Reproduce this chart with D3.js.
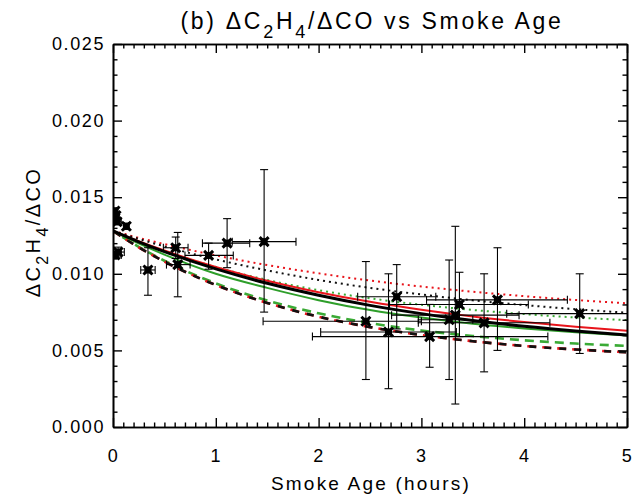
<!DOCTYPE html>
<html>
<head>
<meta charset="utf-8">
<script src="https://cdn.jsdelivr.net/npm/d3@7"></script>
<style>
  html, body { margin: 0; padding: 0; background: #fff; }
  svg { display: block; }
  text { font-family: "Liberation Sans", Arial, Helvetica, sans-serif; fill: #000; }
</style>
</head>
<body>
<svg id="chart" width="639" height="494"></svg>
<script>
// Smoke age sample points for the model curves (hours)
const curveAge = [0, 0.25, 0.5, 1, 1.5, 2, 2.5, 3, 3.5, 4, 4.5, 5];

// Model curves of dC2H4/dCO versus smoke age
const redDotted   = [0.0128, 0.01235, 0.01194, 0.0112, 0.01057, 0.01003, 0.00956, 0.00917, 0.00883, 0.00854, 0.00829, 0.00807];
const blackDotted = [0.0128, 0.01228, 0.01179, 0.01094, 0.01022, 0.0096, 0.00908, 0.00865, 0.00827, 0.00796, 0.00769, 0.00746];
const greenDotted = [0.0128, 0.01211, 0.01149, 0.01044, 0.0096, 0.00893, 0.0084, 0.00798, 0.00764, 0.00737, 0.00715, 0.00698];
const redSolid    = [0.0128, 0.01213, 0.01152, 0.01044, 0.00955, 0.0088, 0.00817, 0.00765, 0.00721, 0.00685, 0.00654, 0.00629];
const blackSolid  = [0.0128, 0.01209, 0.01145, 0.01032, 0.00938, 0.0086, 0.00794, 0.0074, 0.00695, 0.00657, 0.00626, 0.0060];
const greenSolid  = [0.0128, 0.01198, 0.01125, 0.01, 0.00908, 0.00828, 0.00763, 0.00714, 0.00674, 0.00643, 0.00618, 0.00598];
const greenDashed = [0.0128, 0.01176, 0.01085, 0.00938, 0.00826, 0.00742, 0.00678, 0.0063, 0.00594, 0.00566, 0.00545, 0.00529];
const redDashed   = [0.0128, 0.01173, 0.0108, 0.00927, 0.0081, 0.0072, 0.00652, 0.006, 0.0056, 0.00529, 0.00506, 0.00488];
const blackDashed = [0.0128, 0.01173, 0.0108, 0.00927, 0.0081, 0.0072, 0.00652, 0.006, 0.0056, 0.00529, 0.00506, 0.00488];

// Observations: age, ratio, and their error ranges
const obsAge    = [0.02, 0.03, 0.04, 0.02, 0.05, 0.13, 0.34, 0.61, 0.63, 0.93, 1.11, 1.47, 2.46, 2.68, 2.76, 3.08, 3.27, 3.33, 3.37, 3.61, 3.74, 4.54];
const obsRatio  = [0.0141, 0.0138, 0.0134, 0.01123, 0.01142, 0.0131, 0.01025, 0.0117, 0.0106, 0.0112, 0.0120, 0.0121, 0.0069, 0.0062, 0.0085, 0.0059, 0.0070, 0.0073, 0.0080, 0.0068, 0.0083, 0.0074];
const obsAgeLo  = [0.0, 0.0, 0.0, -0.04, -0.01, 0.11, 0.27, 0.49, 0.52, 0.70, 0.87, 1.16, 1.46, 2.02, 2.38, 1.94, 2.97, 2.71, 2.69, 2.97, 3.05, 3.83];
const obsAgeHi  = [0.04, 0.06, 0.08, 0.08, 0.11, 0.15, 0.41, 0.73, 0.75, 1.17, 1.33, 1.78, 3.00, 3.34, 3.14, 4.23, 3.50, 3.95, 4.04, 4.25, 4.42, 5.25];
const obsRatLo  = [0.0139, 0.0136, 0.0132, 0.0110, 0.0111, 0.0129, 0.0086, 0.0110, 0.0085, 0.0103, 0.0104, 0.0075, 0.0031, 0.0025, 0.0064, 0.0039, 0.0031, 0.0015, 0.0059, 0.0036, 0.0050, 0.0048];
const obsRatHi  = [0.0143, 0.0140, 0.0136, 0.01146, 0.01174, 0.0133, 0.0117, 0.0124, 0.0127, 0.0120, 0.0136, 0.0168, 0.0108, 0.0100, 0.0106, 0.0080, 0.0109, 0.0131, 0.0101, 0.0100, 0.0117, 0.0100];

// Axis ticks
const xMajorTicks = [0, 1, 2, 3, 4, 5];
const yMajorTicks = [0.000, 0.005, 0.010, 0.015, 0.020, 0.025];

const svg = d3.select("#chart");
const padL = 113, padR = 627, padT = 44, padB = 427;

const x = d3.scaleLinear().domain([0, 5]).range([padL, padR]);
const y = d3.scaleLinear().domain([0, 0.025]).range([padB, padT]);

const xMinor = d3.range(0, 50.5, 1).map(d => d / 10).filter(d => !xMajorTicks.includes(d));
const yMinor = d3.range(0, 25.5, 1).map(d => d / 1000).filter(d => !yMajorTicks.some(t => Math.abs(t - d) < 1e-9));

const plot = svg.append("g");
plot.append("clipPath").attr("id", "clip")
  .append("rect").attr("x", padL).attr("y", padT).attr("width", padR - padL).attr("height", padB - padT);

// Curves
const line = d3.line().x(d => x(d[0])).y(d => y(d[1])).curve(d3.curveMonotoneX);
const curves = [
  { v: redDotted,   color: "#e8141b", width: 2,   dash: "2,4",  offset: 0 },
  { v: blackDotted, color: "#111",    width: 2,   dash: "2,4",  offset: 0 },
  { v: greenDotted, color: "#3aaa35", width: 2,   dash: "2,4",  offset: 0 },
  { v: greenDashed, color: "#3aaa35", width: 2.6, dash: "9,6",  offset: 4 },
  { v: redDashed,   color: "#e8141b", width: 2.6, dash: "9,6",  offset: 0 },
  { v: blackDashed, color: "#111",    width: 2.6, dash: "7,8",  offset: -2 },
  { v: greenSolid,  color: "#2e9e2a", width: 2,   dash: null,   offset: 0 },
  { v: redSolid,    color: "#e8141b", width: 2,   dash: null,   offset: 0 },
  { v: blackSolid,  color: "#000",    width: 3,   dash: null,   offset: 0 }
];
const curveG = plot.append("g").attr("clip-path", "url(#clip)");
curves.forEach(c => {
  curveG.append("path")
    .datum(curveAge.map((a, i) => [a, c.v[i]]))
    .attr("d", line)
    .attr("fill", "none")
    .attr("stroke", c.color)
    .attr("stroke-width", c.width)
    .attr("stroke-dasharray", c.dash)
    .attr("stroke-dashoffset", c.offset);
});

// Observations with error bars
const obs = obsAge.map((a, i) => ({ a, r: obsRatio[i], a0: obsAgeLo[i], a1: obsAgeHi[i], r0: obsRatLo[i], r1: obsRatHi[i] }));
const obsG = plot.append("g").attr("clip-path", "url(#clip)");
const cap = 4;
const bars = obsG.selectAll("g.obs").data(obs).join("g").attr("class", "obs")
  .attr("stroke", "#000").attr("stroke-width", 1.1).attr("fill", "none");
bars.append("line").attr("x1", d => x(d.a)).attr("x2", d => x(d.a)).attr("y1", d => y(d.r0)).attr("y2", d => y(d.r1));
bars.append("line").attr("x1", d => x(d.a) - cap).attr("x2", d => x(d.a) + cap).attr("y1", d => y(d.r0)).attr("y2", d => y(d.r0));
bars.append("line").attr("x1", d => x(d.a) - cap).attr("x2", d => x(d.a) + cap).attr("y1", d => y(d.r1)).attr("y2", d => y(d.r1));
bars.append("line").attr("x1", d => x(d.a0)).attr("x2", d => x(d.a1)).attr("y1", d => y(d.r)).attr("y2", d => y(d.r));
bars.append("line").attr("x1", d => x(d.a0)).attr("x2", d => x(d.a0)).attr("y1", d => y(d.r) - cap).attr("y2", d => y(d.r) + cap);
bars.append("line").attr("x1", d => x(d.a1)).attr("x2", d => x(d.a1)).attr("y1", d => y(d.r) - cap).attr("y2", d => y(d.r) + cap);

// Filled cross marker for each observation
const marker = "M-4.5,-4.5L4.5,4.5M-4.5,4.5L4.5,-4.5";
obsG.selectAll("g.mk").data(obs).join("g").attr("class", "mk")
  .attr("transform", d => `translate(${x(d.a)},${y(d.r)})`)
  .each(function () {
    const g = d3.select(this);
    g.append("rect").attr("x", -3.5).attr("y", -3.5).attr("width", 7).attr("height", 7).attr("fill", "#000");
    g.append("path").attr("d", marker).attr("stroke", "#000").attr("stroke-width", 3);
  });

// Axes with inward ticks on all four sides
function styleAxis(g) {
  g.selectAll("path.domain").attr("stroke", "#000").attr("stroke-width", 1.6);
  g.selectAll(".tick line").attr("stroke", "#000").attr("stroke-width", 1.4);
  g.selectAll(".tick text")
    .style("font-family", '"Liberation Sans", Arial, sans-serif')
    .style("font-size", "18px").style("letter-spacing", "1.6px").attr("fill", "#000");
}
const majorLen = 9, minorLen = 4.5;

// bottom
svg.append("g").attr("transform", `translate(0,${padB})`)
  .call(d3.axisBottom(x).tickValues(xMinor).tickSizeInner(-minorLen).tickSizeOuter(0).tickFormat(""))
  .call(styleAxis);
svg.append("g").attr("transform", `translate(0,${padB})`)
  .call(d3.axisBottom(x).tickValues(xMajorTicks).tickSizeInner(-majorLen).tickSizeOuter(0).tickPadding(22).tickFormat(d3.format("d")))
  .call(styleAxis);
// top
svg.append("g").attr("transform", `translate(0,${padT})`)
  .call(d3.axisTop(x).tickValues(xMinor).tickSizeInner(-minorLen).tickSizeOuter(0).tickFormat(""))
  .call(styleAxis);
svg.append("g").attr("transform", `translate(0,${padT})`)
  .call(d3.axisTop(x).tickValues(xMajorTicks).tickSizeInner(-majorLen).tickSizeOuter(0).tickFormat(""))
  .call(styleAxis);
// left
svg.append("g").attr("transform", `translate(${padL},0)`)
  .call(d3.axisLeft(y).tickValues(yMinor).tickSizeInner(-minorLen).tickSizeOuter(0).tickFormat(""))
  .call(styleAxis);
svg.append("g").attr("transform", `translate(${padL},0)`)
  .call(d3.axisLeft(y).tickValues(yMajorTicks).tickSizeInner(-majorLen).tickSizeOuter(0).tickPadding(8).tickFormat(d3.format(".3f")))
  .call(styleAxis);
// right
svg.append("g").attr("transform", `translate(${padR},0)`)
  .call(d3.axisRight(y).tickValues(yMinor).tickSizeInner(-minorLen).tickSizeOuter(0).tickFormat(""))
  .call(styleAxis);
svg.append("g").attr("transform", `translate(${padR},0)`)
  .call(d3.axisRight(y).tickValues(yMajorTicks).tickSizeInner(-majorLen).tickSizeOuter(0).tickFormat(""))
  .call(styleAxis);

// Titles
const title = svg.append("text").attr("x", 372).attr("y", 29).attr("text-anchor", "middle")
  .style("font-size", "23px").style("letter-spacing", "2.7px");
title.append("tspan").text("(b) \u0394C");
title.append("tspan").attr("dy", 9).style("font-size", "18px").text("2");
title.append("tspan").attr("dy", -9).text("H");
title.append("tspan").attr("dy", 9).style("font-size", "18px").text("4");
title.append("tspan").attr("dy", -9).text("/\u0394CO vs Smoke Age");

svg.append("text").attr("x", 371).attr("y", 490).attr("text-anchor", "middle")
  .style("font-size", "19px").style("letter-spacing", "2.2px").text("Smoke Age (hours)");

const yTitle = svg.append("text").attr("transform", "translate(40,232) rotate(-90)").attr("text-anchor", "middle")
  .style("font-size", "20px").style("letter-spacing", "2.4px");
yTitle.append("tspan").text("\u0394C");
yTitle.append("tspan").attr("dy", 8).style("font-size", "16px").text("2");
yTitle.append("tspan").attr("dy", -8).text("H");
yTitle.append("tspan").attr("dy", 8).style("font-size", "16px").text("4");
yTitle.append("tspan").attr("dy", -8).text("/\u0394CO");
</script>
</body>
</html>
